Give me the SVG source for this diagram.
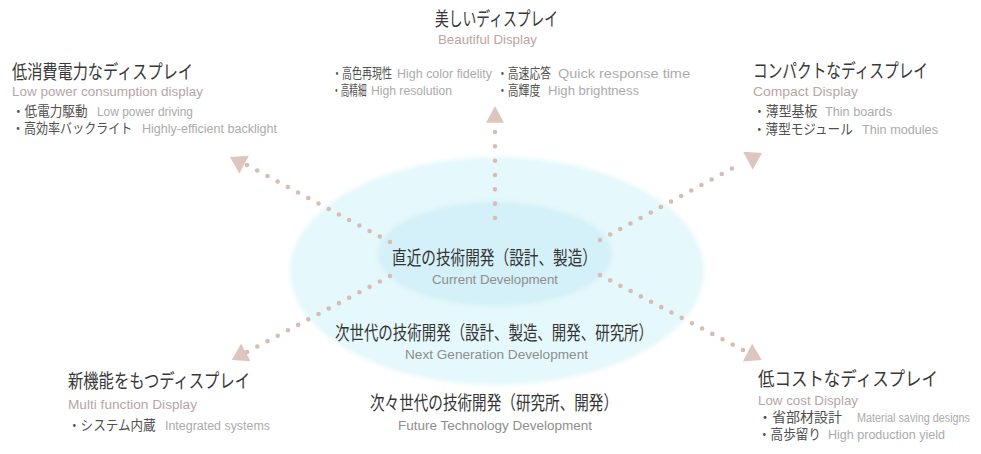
<svg xmlns="http://www.w3.org/2000/svg" width="981" height="454" viewBox="0 0 981 454">
<defs>
<style>
.jh{font-family:"Noto Sans CJK JP",sans-serif;font-size:19px;fill:#383838}
.jc{font-family:"Noto Sans CJK JP",sans-serif;font-size:19px;fill:#343434}
.jb{font-family:"Liberation Sans","Noto Sans CJK JP",sans-serif;font-size:14px;fill:#505050}
.jt{font-family:"Liberation Sans","Noto Sans CJK JP",sans-serif;font-size:13.5px;fill:#505050}
.es{font-family:"Liberation Sans",Arial,sans-serif;font-size:13px;fill:#b9a5a5}
.ec{font-family:"Liberation Sans",Arial,sans-serif;font-size:13px;fill:#8e8e8e}
.eb{font-family:"Liberation Sans",Arial,sans-serif;font-size:12px;fill:#ababab}
.dots{fill:none;stroke:#d7bdb3;stroke-width:4.6;stroke-linecap:round}
.head{fill:#dcc6be}
</style>
<filter id="soft" x="-10%" y="-10%" width="120%" height="120%"><feGaussianBlur stdDeviation="2"/></filter>
<polygon id="ah" points="0,0 -16,-10 -16,10"/>
</defs>
<rect width="981" height="454" fill="#fff"/>

<g id="center">
<ellipse cx="497" cy="271" rx="207" ry="114" fill="#e5f8fb" filter="url(#soft)"/>
<ellipse cx="495" cy="254" rx="117" ry="52" fill="#d4f0f8" filter="url(#soft)"/>
</g>

<g id="connectors">
<line class="dots" x1="495" y1="218" x2="495" y2="132" stroke-dasharray="0 14.33"/>
<use href="#ah" class="head" transform="translate(495,106) rotate(-90) scale(1.05,0.9)"/>
<line class="dots" x1="390" y1="242" x2="247" y2="165" stroke-dasharray="0 11.6"/>
<use href="#ah" class="head" transform="translate(230,157) rotate(208.3)"/>
<line class="dots" x1="600" y1="240" x2="742" y2="163" stroke-dasharray="0 11.54"/>
<use href="#ah" class="head" transform="translate(762,153) rotate(-28.5)"/>
<line class="dots" x1="390" y1="276" x2="247" y2="352" stroke-dasharray="0 11.56"/>
<use href="#ah" class="head" transform="translate(231.7,360) rotate(151.8)"/>
<line class="dots" x1="600" y1="275" x2="743" y2="350" stroke-dasharray="0 11.53"/>
<use href="#ah" class="head" transform="translate(761.7,360) rotate(27.6)"/>
</g>

<g id="center-text">
<text class="jc" x="392" y="265" textLength="205" lengthAdjust="spacingAndGlyphs">直近の技術開発（設計、製造）</text>
<text class="ec" x="432" y="284" textLength="126" lengthAdjust="spacingAndGlyphs">Current Development</text>
<text class="jc" x="335" y="340" textLength="318" lengthAdjust="spacingAndGlyphs">次世代の技術開発（設計、製造、開発、研究所）</text>
<text class="ec" x="405" y="359" textLength="183" lengthAdjust="spacingAndGlyphs">Next Generation Development</text>
<text class="jc" x="370" y="410" textLength="248" lengthAdjust="spacingAndGlyphs">次々世代の技術開発（研究所、開発）</text>
<text class="ec" x="398" y="430" textLength="194" lengthAdjust="spacingAndGlyphs">Future Technology Development</text>
</g>

<g id="beautiful">
<text class="jh" x="435" y="26" textLength="123" lengthAdjust="spacingAndGlyphs">美しいディスプレイ</text>
<text class="es" x="438" y="44" textLength="99" lengthAdjust="spacingAndGlyphs">Beautiful Display</text>
<text class="jt" transform="translate(332,78) scale(0.74,1)">・高色再現性</text>
<text class="eb" x="397" y="78" textLength="95" lengthAdjust="spacingAndGlyphs">High color fidelity</text>
<text class="jt" transform="translate(332,95) scale(0.64,1)">・高精細</text>
<text class="eb" x="371" y="95" textLength="81" lengthAdjust="spacingAndGlyphs">High resolution</text>
<text class="jt" transform="translate(497,78) scale(0.8,1)">・高速応答</text>
<text class="eb" x="558" y="78" textLength="132" lengthAdjust="spacingAndGlyphs">Quick response time</text>
<text class="jt" transform="translate(497,95) scale(0.8,1)">・高輝度</text>
<text class="eb" x="548" y="95" textLength="91" lengthAdjust="spacingAndGlyphs">High brightness</text>
</g>

<g id="low-power">
<text class="jh" x="12" y="79" textLength="181" lengthAdjust="spacingAndGlyphs">低消費電力なディスプレイ</text>
<text class="es" x="12" y="96" textLength="191" lengthAdjust="spacingAndGlyphs">Low power consumption display</text>
<text class="jb" transform="translate(12,116) scale(0.9,1)">・低電力駆動</text>
<text class="eb" x="97" y="116" textLength="96" lengthAdjust="spacingAndGlyphs">Low power driving</text>
<text class="jb" transform="translate(12,133) scale(0.86,1)">・高効率バックライト</text>
<text class="eb" x="142" y="133" textLength="135" lengthAdjust="spacingAndGlyphs">Highly-efficient backlight</text>
</g>

<g id="compact">
<text class="jh" x="753" y="78" textLength="175" lengthAdjust="spacingAndGlyphs">コンパクトなディスプレイ</text>
<text class="es" x="753" y="96" textLength="105" lengthAdjust="spacingAndGlyphs">Compact Display</text>
<text class="jb" transform="translate(753,116) scale(0.92,1)">・薄型基板</text>
<text class="eb" x="825" y="116" textLength="67" lengthAdjust="spacingAndGlyphs">Thin boards</text>
<text class="jb" transform="translate(753,134) scale(0.9,1)">・薄型モジュール</text>
<text class="eb" x="862" y="134" textLength="76" lengthAdjust="spacingAndGlyphs">Thin modules</text>
</g>

<g id="multi-function">
<text class="jh" x="68" y="388" textLength="182" lengthAdjust="spacingAndGlyphs">新機能をもつディスプレイ</text>
<text class="es" x="68" y="409" textLength="129" lengthAdjust="spacingAndGlyphs">Multi function Display</text>
<text class="jb" transform="translate(68,430) scale(0.9,1)">・システム内蔵</text>
<text class="eb" x="165" y="430" textLength="105" lengthAdjust="spacingAndGlyphs">Integrated systems</text>
</g>

<g id="low-cost">
<text class="jh" x="758" y="386" textLength="180" lengthAdjust="spacingAndGlyphs">低コストなディスプレイ</text>
<text class="es" x="758" y="405" textLength="100" lengthAdjust="spacingAndGlyphs">Low cost Display</text>
<text class="jb" transform="translate(758,422) scale(1,1)">・省部材設計</text>
<text class="eb" x="857" y="422" textLength="113" lengthAdjust="spacingAndGlyphs">Material saving designs</text>
<text class="jb" transform="translate(758,439) scale(0.9,1)">・高歩留り</text>
<text class="eb" x="828" y="439" textLength="117" lengthAdjust="spacingAndGlyphs">High production yield</text>
</g>
</svg>
